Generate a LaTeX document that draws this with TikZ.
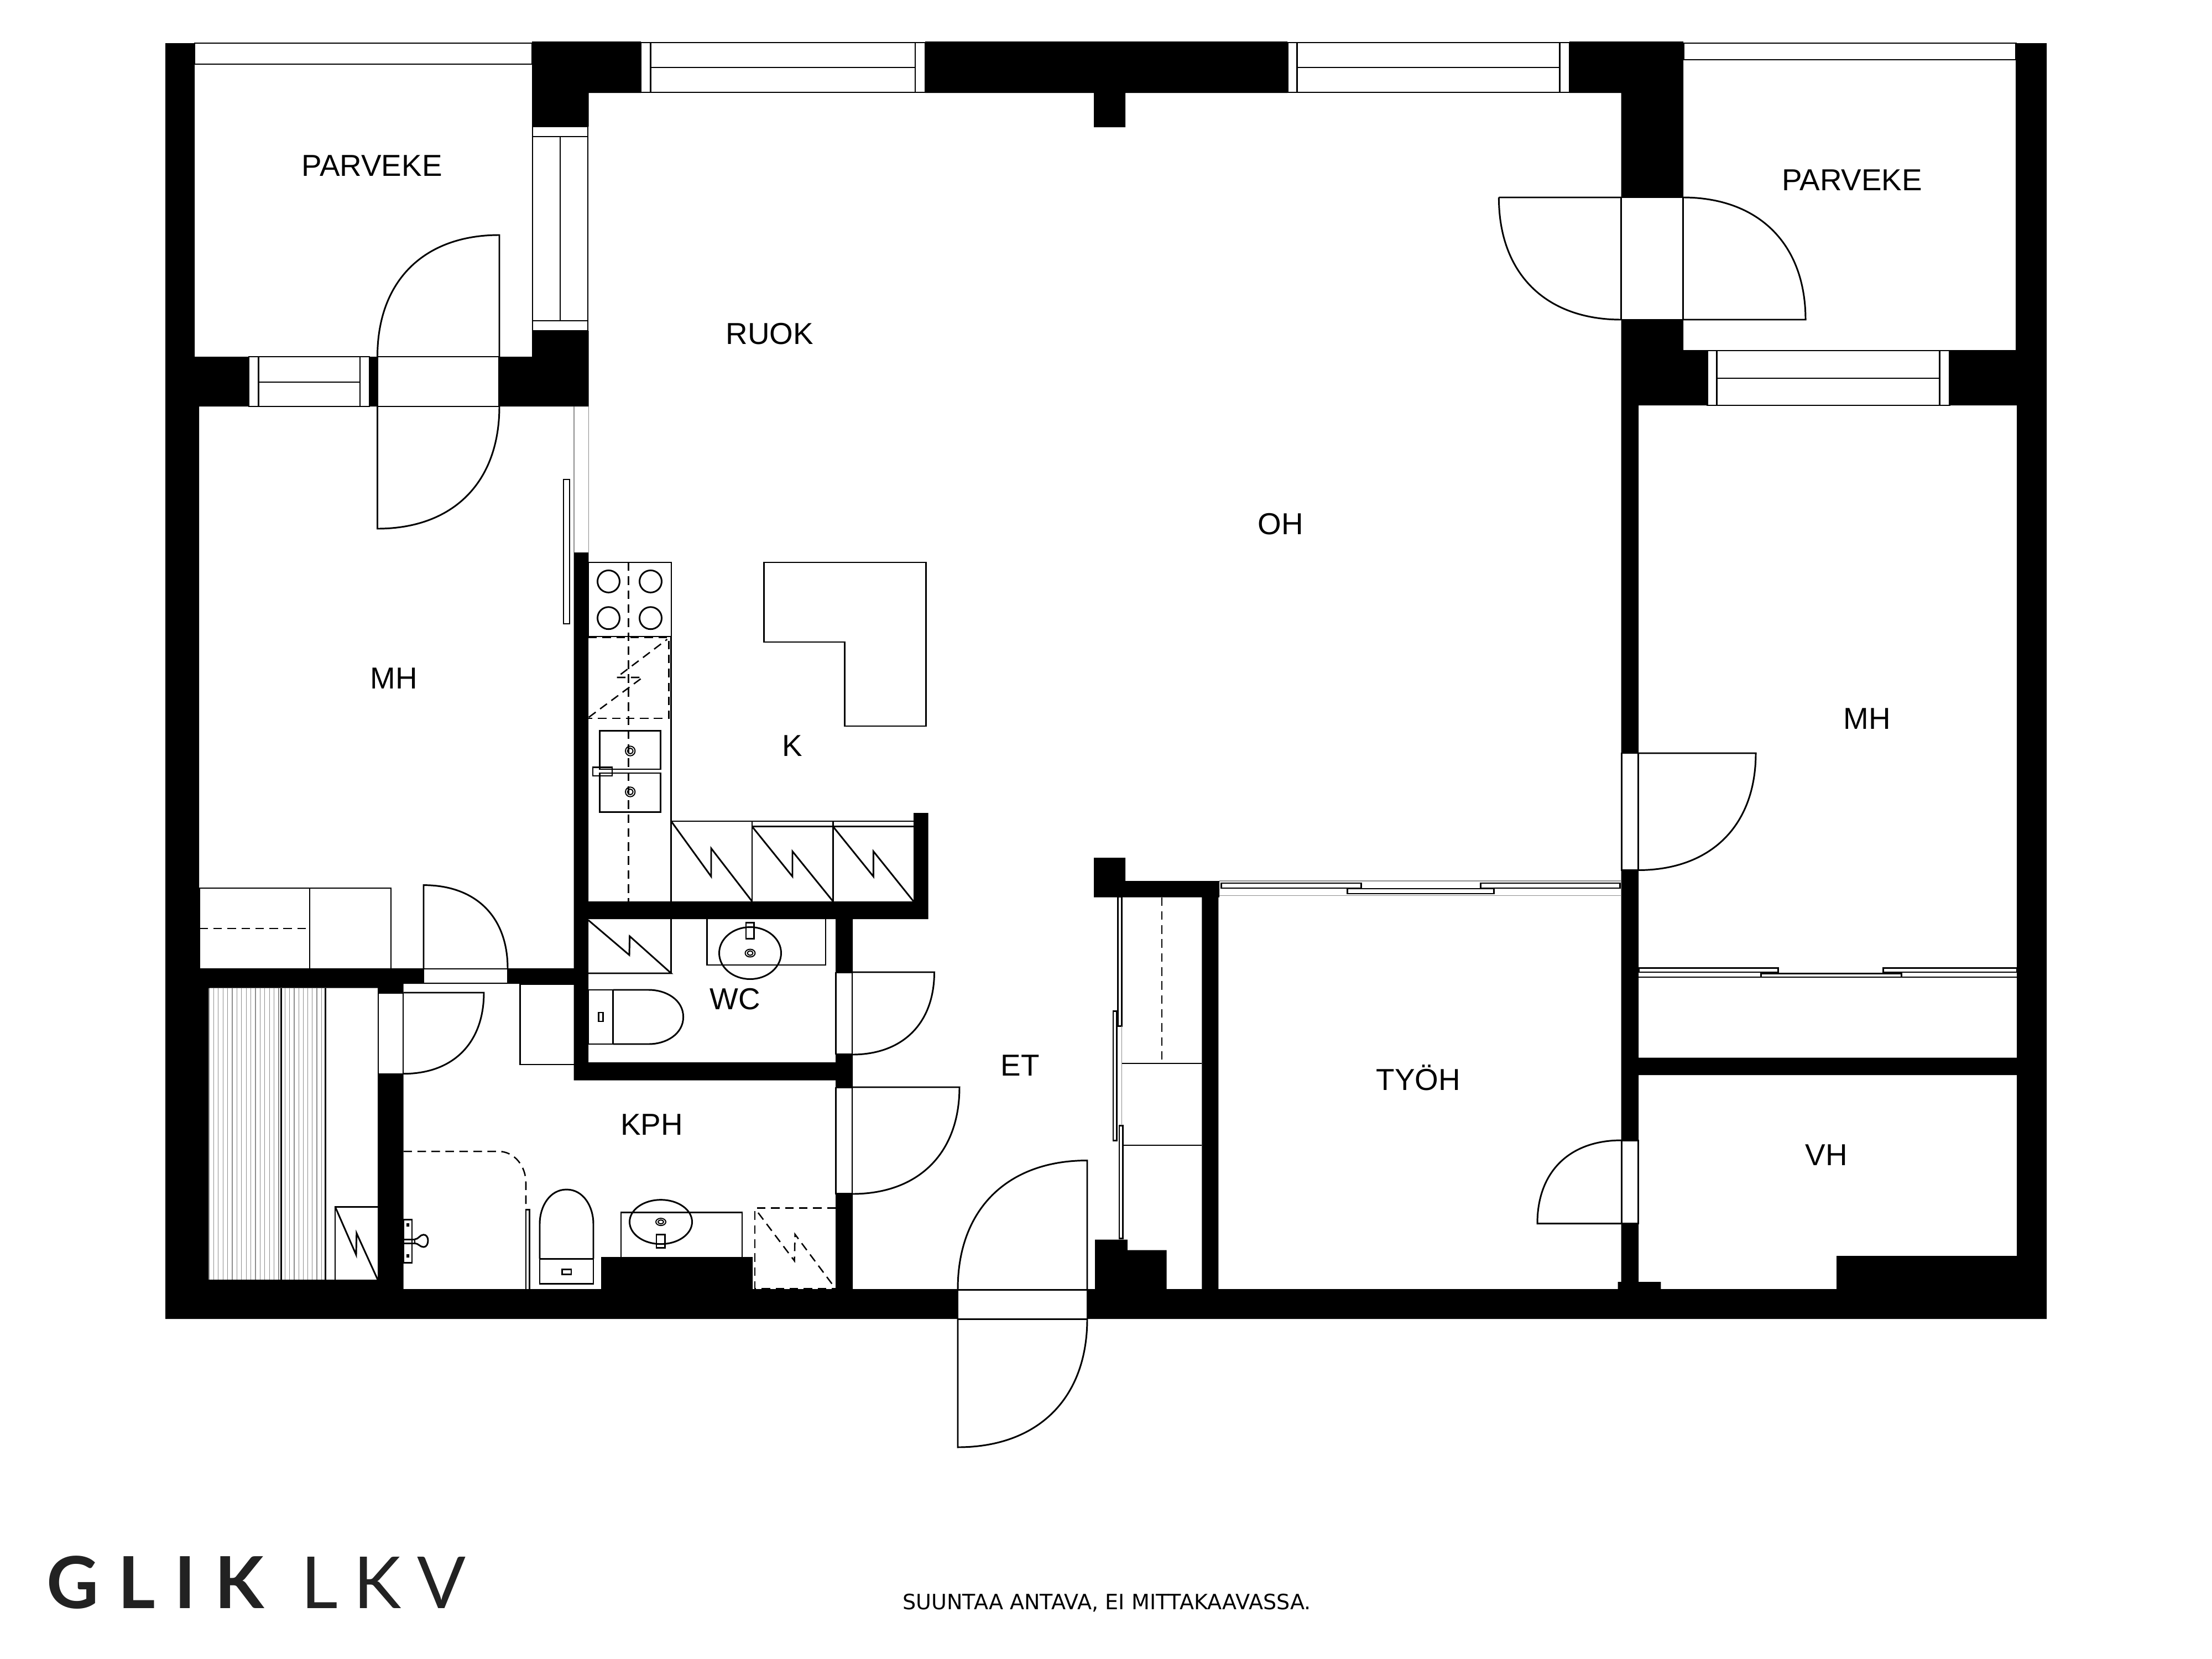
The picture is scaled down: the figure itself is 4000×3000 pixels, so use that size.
\documentclass[tikz,border=0pt]{standalone}
\usepackage{fontspec}
\setmainfont{Liberation Sans}
\newfontfamily\footfont{DejaVu Sans}
\newfontfamily\logofont[LetterSpace=26.7]{Lato}
\newfontfamily\logothin[LetterSpace=22]{Lato}
\definecolor{logogray}{HTML}{222222}
\begin{document}
\begin{tikzpicture}[
              x = 0.25mm, y = -0.25mm,
      wall/.style = {fill=black},
      fine/.style = {line width=2.1pt},
      leaf/.style = {line width=2.1pt, looseness=1.12},
      hair/.style = {line width=0.8pt, black!45},
  dashline/.style = {line width=1.8pt, dashed, dash pattern=on 11pt off 7pt},
   opening/.style = {fine, fill=white},
 roomlabel/.style = {anchor=base, inner sep=0pt, font=\fontsize{39}{48}\selectfont}
                        ]
\useasboundingbox (0,0) rectangle (4000,3000);
% walls
\fill[wall] (299,78) rectangle (352,735)   (299,735) rectangle (360,2385)
    (962,75) rectangle (1159,168)   (962,75) rectangle (1064.5,229)
    (1673,75) rectangle (2328,168)  (1978,168) rectangle (2035,230)
    (2838,75) rectangle (3044,168)  (2931.5,168) rectangle (3044,733)
    (3044,633) rectangle (3701,733) (3645,78) rectangle (3701,733)
    (3647,733) rectangle (3701,2385) (2931.5,733) rectangle (2963,2385)
    (2931.5,1912.6) rectangle (3701,1944)
    (299,2331) rectangle (1732,2385) (1966,2331) rectangle (3701,2385)
    (299,645) rectangle (1064.5,735) (962,598) rectangle (1064.5,735)
    (360,1751) rectangle (1038,1779) (360,1751) rectangle (729.5,1786.5)
    (299,1751) rectangle (378.5,2385) (378,2314) rectangle (729.5,2385)
    (683,1786) rectangle (729.5,2385)
    (1037.7,999) rectangle (1064,1953.5) (1037.7,1630) rectangle (1678.6,1662)
    (1652,1470) rectangle (1678.6,1662)  (1511,1662) rectangle (1542,2331)
    (1037.7,1921) rectangle (1542,1953.5) (1087,2273) rectangle (1361,2331)
    (1978,1551) rectangle (2035,1622.5) (2035,1593) rectangle (2205,1622.5)
    (2173.4,1622) rectangle (2203.4,2331)
    (1980,2241.5) rectangle (2038.8,2331) (2038.8,2260.5) rectangle (2109.6,2331)
    (3321,2271) rectangle (3647,2331) (2925.5,2318) rectangle (3003.4,2331);
% windows
\draw[opening] (352,78) rectangle (962,116);
\draw[opening] (3044,78) rectangle (3645,108);
\draw[opening] (963,229) rectangle (1063,598);
\draw[fine] (963,247) -- (1063,247) (963,580) -- (1063,580) (1013,247) -- (1013,580);
\draw[opening] (450,645) rectangle (668,735);
\draw[fine] (467.5,645) -- (467.5,735) (651,645) -- (651,735) (467.5,691) -- (651,691);
\draw[opening] (1159,77) rectangle (1673,167);
\draw[fine] (1176.4,77) -- (1176.4,167) (1655,77) -- (1655,167) (1176.4,122) -- (1655,122);
\draw[opening] (2328,77) rectangle (2838,167);
\draw[fine] (2345.6,77) -- (2345.6,167) (2820.6,77) -- (2820.6,167) (2345.6,122) -- (2820.6,122);
\draw[opening] (3087.6,634) rectangle (3525,733);
\draw[fine] (3104.5,634) -- (3104.5,733) (3507.4,634) -- (3507.4,733) (3104.5,684) -- (3507.4,684);
% door openings
\draw[opening] (682.5,645) rectangle (902.6,735);
\draw[opening] (2931.5,357) rectangle (3043,578);
\draw[opening] (2932,1362) rectangle (2962,1573.5);
\draw[opening] (2932.6,2062) rectangle (2962,2212.5);
\draw[opening] (1732,2332) rectangle (1966,2385);
\draw[opening] (766,1752) rectangle (918,1778);
\draw[opening] (684,1796) rectangle (729,1942);
\draw[opening] (1511.5,1759) rectangle (1541,1906);
\draw[opening] (1511.5,1967) rectangle (1541,2158.6);
% door leaves
\draw[leaf] (682.5,645) to[out=90,in=180] (903,425) -- (903,645);
\draw[leaf] (903,735) to[out=-90,in=0] (682.5,956) -- (682.5,735);
\draw[leaf] (2710.4,357) to[out=-90,in=180] (2931.5,578) (2710.4,357) -- (2931.5,357);
\draw[leaf] (3043,357) to[out=0,in=90] (3265,578) -- (3043,578);
\draw[leaf] (2962,1362) -- (3175,1362) to[out=-90,in=0] (2962,1573.5);
\draw[leaf] (2932,2062) to[out=180,in=90] (2780,2212.5) -- (2932,2212.5);
\draw[leaf] (1732,2331) to[out=90,in=180] (1966,2098.5) -- (1966,2331);
\draw[leaf] (1966,2385) to[out=-90,in=0] (1732,2617) -- (1732,2385);
\draw[leaf] (1541,1758) -- (1689.5,1758) to[out=-90,in=0] (1541,1907);
\draw[leaf] (1541,1966) -- (1735,1966) to[out=-90,in=0] (1541,2159);
\draw[leaf] (729.5,1795) -- (875,1795) to[out=-90,in=0] (729.5,1941.7);
\draw[leaf] (766,1751) -- (766,1600.6) to[out=0,in=90] (918,1751);
% sliding doors
\draw[hair] (1038,735) -- (1038,999) (1064.5,735) -- (1064.5,1017);
\draw[fine] (1019,867) rectangle (1030,1128);
\draw[fine] (2021.6,1622) rectangle (2028.6,1855.7);
\draw[fine] (2013,1828.6) rectangle (2019.7,2062.5);
\draw[fine] (2024,2035) rectangle (2030.5,2239);
\draw[hair] (2028.6,1855) -- (2028.6,2035);
\draw[hair] (2205,1593) -- (2931,1593) (2205,1619.5) -- (2931,1619.5);
\draw[fine] (2208,1597) rectangle (2461,1606);
\draw[fine] (2677,1597) rectangle (2929,1606);
\draw[fine] (2436,1607) rectangle (2701.7,1616);
\draw[fine] (2963,1750.5) rectangle (3215,1758);
\draw[fine] (3405,1750.5) rectangle (3647,1758);
\draw[fine] (3184,1760.5) rectangle (3438,1767);
\draw[fine] (2963,1767) -- (3184,1767) (3438,1767) -- (3647,1767);
% closets
\draw[fine, line width=1.4pt] (2028.6,1923) -- (2173.4,1923) (2030,2070.6) -- (2173.4,2070.6);
\draw[dashline] (2101,1622.5) -- (2101,1923);
\draw[fine] (360.6,1751) -- (360.6,1606) -- (707,1606) -- (707,1751) (560,1606) -- (560,1751);
\draw[dashline] (360.6,1679) -- (560,1679);
\draw[fine] (940.7,1780) rectangle (1039,1925);
% kitchen
\draw[fine] (1064,1017) rectangle (1214,1151);
\foreach \hobx in {1100.5,1176.5}
  \foreach \hoby in {1051.4,1117.7}
    \draw[fine] (\hobx,\hoby) circle [radius=20];
\draw[dashline] (1136.7,1017) -- (1136.7,1630);
\draw[dashline] (1064,1152.4) -- (1209.6,1152.4) -- (1209.6,1298.8) -- (1064,1298.8);
\draw[dashline] (1064.8,1297) -- (1162,1225) -- (1115,1225) -- (1206.5,1156);
\draw[fine] (1213.7,1151) -- (1213.7,1630);
\draw[fine] (1084.7,1321.7) rectangle (1194.8,1391);
\draw[fine] (1084.7,1398) rectangle (1194.8,1468.6);
\foreach \drainy in {1358,1432} {
  \draw[fine, line width=1.4pt] (1139.7,\drainy) circle [radius=8.7];
  \draw[fine, line width=1.4pt] (1139.7,\drainy) circle [radius=5];
}
\draw[opening, fill=none] (1072,1387.5) rectangle (1107,1403);
\draw[fine] (1381.5,1017) -- (1674.7,1017) -- (1674.7,1313) -- (1527.8,1313) -- (1527.8,1161) -- (1381.5,1161) -- cycle;
\draw[fine] (1213.7,1485) -- (1652,1485) (1360,1494.6) -- (1652,1494.6)
    (1360,1485) -- (1360,1630) (1506.4,1485) -- (1506.4,1630);
\draw[fine] (1213.7,1485) -- (1286,1585) -- (1286,1534) -- (1360,1630);
\draw[fine] (1360,1494.6) -- (1433,1585) -- (1433,1539.5) -- (1506.4,1630);
\draw[fine] (1506.4,1494.6) -- (1579.4,1585) -- (1579.4,1539.5) -- (1652,1630);
% WC
\draw[fine] (1064,1664) -- (1138,1727) -- (1138.7,1693) -- (1213.7,1760) -- (1064,1760);
\draw[fine] (1213.7,1662) -- (1213.7,1760);
\draw[fine] (1278.5,1662) -- (1278.5,1745) -- (1493,1745) -- (1493,1662);
\draw[fine] (1356.5,1723.5) ellipse [x radius=56, y radius=47];
\draw[fine, line width=1.4pt] (1356.5,1723.5) ellipse [x radius=9, y radius=7];
\draw[fine, line width=1.4pt] (1356.5,1723.5) ellipse [x radius=5, y radius=4];
\draw[fine] (1349,1668.5) rectangle (1363.6,1697.5);
\draw[fine] (1064,1790) rectangle (1108.6,1888);
\draw[fine] (1108.6,1790) -- (1173.4,1790) to[out=0,in=90] (1235.6,1839) to[out=-90,in=0] (1173.4,1888) -- (1108.6,1888);
\draw[fine] (1082.6,1831) rectangle (1090.8,1847);
% KPH
\draw[fine] (1123,2273) -- (1123,2192.7) -- (1342,2192.7) -- (1342,2273);
\draw[fine] (1195,2209.6) ellipse [x radius=56.5, y radius=40];
\draw[fine, line width=1.4pt] (1195,2209.6) ellipse [x radius=9, y radius=6.5];
\draw[fine, line width=1.4pt] (1195,2209.6) ellipse [x radius=5, y radius=3.5];
\draw[fine] (1187,2232) rectangle (1202.5,2256.5);
\draw[dashline] (1511,2184.6) -- (1365,2184.6) -- (1365,2330) -- (1511,2330);
\draw[dashline] (1371,2193) -- (1436.6,2280) -- (1437.6,2232) -- (1510,2329);
\draw[dashline] (729.5,2082) -- (901,2082) to[out=0,in=90] (951,2138.7) -- (951,2185);
\draw[fine] (951,2331) -- (951,2187) -- (957.5,2187) -- (957.5,2331);
\draw[fine] (976,2276) -- (976,2213) to[out=90,in=180] (1024.5,2151) to[out=0,in=90] (1073,2213) -- (1073,2276);
\draw[fine] (976,2276) rectangle (1073,2321);
\draw[fine] (1016.7,2295.5) rectangle (1033,2304);
\draw[fine] (729.5,2205) rectangle (745,2283);
\draw[fine] (729.5,2241) rectangle (750,2248.3);
\draw[fine] (750,2241) to[out=0,in=180] (766,2232.7) to[out=0,in=90] (774,2243) to[out=-90,in=0] (766,2255) to[out=180,in=0] (750,2248.3);
\fill (735,2212) rectangle (740,2218) (735,2268) rectangle (740,2274);
% sauna
\foreach \benchx in {378,386.4,...,506}
  \draw[hair] (\benchx,1786.5) -- (\benchx,2314);
\foreach \benchx in {515.6,523.8,...,586}
  \draw[hair] (\benchx,1786.5) -- (\benchx,2314);
\fill (507,1786.5) rectangle (509.8,2314);
\draw[fine] (588.7,1786.5) -- (588.7,2314);
\draw[fine] (606,2314) -- (606,2182) -- (683,2182);
\draw[fine] (606,2182) -- (644,2269) -- (644.8,2230) -- (683,2314);
% room names
\node[roomlabel] (parvekeL) at (672.7,318.4) {PARVEKE};
\node[roomlabel] (parvekeR) at (3349,344) {PARVEKE};
\node[roomlabel] (ruok)     at (1392,622)    {RUOK};
\node[roomlabel] (oh)       at (2316,966)    {OH};
\node[roomlabel] (mhL)      at (712,1245)    {MH};
\node[roomlabel] (mhR)      at (3376,1318)   {MH};
\node[roomlabel] (k)        at (1433,1367.6) {K};
\node[roomlabel] (wc)       at (1329,1825)   {WC};
\node[roomlabel] (kph)      at (1178.5,2052.5) {KPH};
\node[roomlabel] (et)       at (1845,1945)   {ET};
\node[roomlabel] (tyoh)     at (2565,1971)   {TYÖH};
\node[roomlabel] (vh)       at (3303,2107)   {VH};
% footer
\node[anchor=base west, inner sep=0pt, text=logogray, font=\logofont\bfseries\fontsize{92.4}{100}\selectfont] (logoA) at (84,2908) {GLIK};
\node[anchor=base west, inner sep=0pt, text=logogray, font=\logothin\fontsize{92.4}{100}\selectfont] (logoB) at (544,2908) {LKV};
\node[anchor=base west, inner sep=0pt, font=\footfont\fontsize{27.1}{30}\selectfont] (note) at (1632,2910) {SUUNTAA ANTAVA, EI MITTAKAAVASSA.};
\end{tikzpicture}
\end{document}
